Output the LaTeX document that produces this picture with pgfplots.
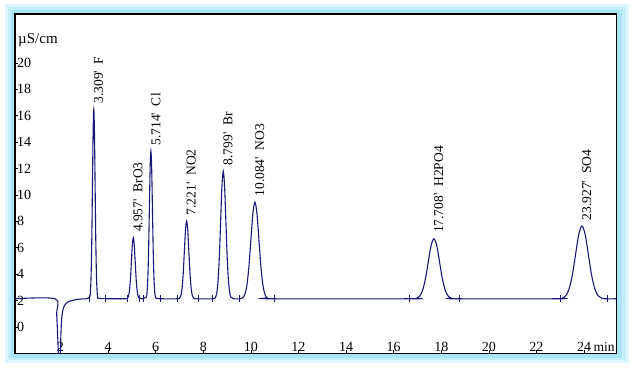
\documentclass[border=0pt]{standalone}
\usepackage{fontspec}
\setmainfont{Liberation Serif}
\usepackage{pgfplots}
\pgfplotsset{compat=1.18}
\definecolor{sig}{RGB}{25,25,120}
\definecolor{glowA}{RGB}{222,246,253}
\definecolor{glowB}{RGB}{195,237,250}
\definecolor{glowC}{RGB}{170,228,247}
\newcommand\q{\textquotesingle}
\begin{document}
\fontsize{13.5bp}{15bp}\selectfont
\begin{tikzpicture}
\useasboundingbox (-15bp,-15.7bp) rectangle (621bp,353.3bp);
\fill[glowA] (-10bp,-9.5bp) rectangle (614bp,349bp);
\fill[glowB] (-7bp,-7bp) rectangle (611bp,346bp);
\fill[glowC] (-4bp,-5bp) rectangle (607bp,343bp);
\begin{axis}[
  scale only axis, width=601.7bp, height=339.3bp,
  at={(0,0)}, anchor=south west,
  xmin=0.09, xmax=25.37, ymin=-2, ymax=23.7,
  axis background/.style={fill=white},
  axis line style={black, line width=1.2bp},
  xtick={2,4,...,24}, ytick={0,2,...,20},
  tick style={black, line width=0.6bp},
  tick align=inside, major tick length=3bp,
  xtick pos=bottom, ytick pos=left,
  xticklabel style={anchor=south, inner sep=1.5bp},
  yticklabel style={anchor=west, inner sep=2bp},
  /pgf/number format/assume math mode=true,
  ticklabel style={font=\fontsize{14bp}{15bp}\selectfont},
]
\addplot[sig, line width=1.1bp, smooth, tension=0.5] coordinates {
(0.09,2.13) (1.78,2.13) (1.84,1.0) (1.89,-1.0) (1.94,-3.0) (1.98,-3.0) (2.02,-0.5) (2.06,0.8) (2.12,1.4) (2.2,1.7) (2.35,1.92) (2.6,2.05) (2.9,2.12) (3.1,2.13)
(3.235,2.29) (3.2625,2.76) (3.29,4.07) (3.3175,6.79) (3.345,10.83) (3.3725,14.79) (3.40,16.48) (3.4275,14.79) (3.455,10.83) (3.4825,6.79) (3.51,4.07) (3.5375,2.76) (3.565,2.29) (3.65,2.15)
(4.7,2.13) (4.82,2.18) (4.86,2.33) (4.90,2.76) (4.94,3.63) (4.98,4.94) (5.02,6.22) (5.06,6.76) (5.10,6.22) (5.14,4.94) (5.18,3.63) (5.22,2.76) (5.26,2.33) (5.30,2.18) (5.42,2.13)
(5.605,2.25) (5.6375,2.62) (5.67,3.64) (5.7025,5.76) (5.735,8.91) (5.7675,11.99) (5.80,13.30) (5.8325,11.99) (5.865,8.91) (5.8975,5.76) (5.93,3.64) (5.9625,2.62) (5.995,2.25) (6.1,2.14)
(6.9,2.13) (7.015,2.20) (7.0625,2.39) (7.11,2.93) (7.1575,4.04) (7.205,5.70) (7.2525,7.33) (7.30,8.02) (7.3475,7.33) (7.395,5.70) (7.4425,4.04) (7.49,2.93) (7.5375,2.39) (7.585,2.20) (7.7,2.13)
(8.4,2.13) (8.51,2.24) (8.565,2.56) (8.62,3.44) (8.675,5.27) (8.73,8.00) (8.785,10.66) (8.84,11.80) (8.895,10.66) (8.95,8.00) (9.005,5.27) (9.06,3.44) (9.115,2.56) (9.17,2.24) (9.3,2.13)
(9.55,2.13) (9.66,2.21) (9.745,2.45) (9.83,3.12) (9.915,4.51) (10.0,6.57) (10.085,8.59) (10.17,9.45) (10.255,8.59) (10.34,6.57) (10.425,4.51) (10.51,3.12) (10.595,2.45) (10.68,2.21) (10.85,2.13)
(16.8,2.13) (16.97,2.18) (17.09,2.33) (17.21,2.75) (17.33,3.61) (17.45,4.89) (17.57,6.15) (17.69,6.68) (17.81,6.15) (17.93,4.89) (18.05,3.61) (18.17,2.75) (18.29,2.33) (18.41,2.18) (18.6,2.13)
(22.9,2.13) (23.10,2.19) (23.235,2.37) (23.37,2.88) (23.505,3.92) (23.64,5.47) (23.775,7.00) (23.91,7.64) (24.045,7.00) (24.18,5.47) (24.315,3.92) (24.45,2.88) (24.585,2.37) (24.72,2.19) (24.9,2.13)
(25.37,2.13)
};
\addplot[only marks, mark=|, mark size=3.5bp, sig, mark options={line width=0.8bp}] coordinates {
(3.21,2.13) (3.87,2.13) (4.81,2.13) (5.31,2.13) (5.48,2.13) (6.18,2.13) (6.91,2.13) (7.79,2.13) (8.39,2.13) (9.51,2.13) (10.97,2.13) (16.66,2.13) (18.78,2.13) (23.02,2.13) (24.97,2.13)
};
\node[rotate=90, anchor=north west, inner sep=0pt] at (axis cs:3.40,16.90) {3.309\q~~F};
\node[rotate=90, anchor=north west, inner sep=0pt] at (axis cs:5.06,7.18) {4.957\q~~BrO3};
\node[rotate=90, anchor=north west, inner sep=0pt] at (axis cs:5.80,13.72) {5.714\q~~Cl};
\node[rotate=90, anchor=north west, inner sep=0pt] at (axis cs:7.30,8.44) {7.221\q~~NO2};
\node[rotate=90, anchor=north west, inner sep=0pt] at (axis cs:8.84,12.22) {8.799\q~~Br};
\node[rotate=90, anchor=north west, inner sep=0pt] at (axis cs:10.17,9.87) {10.084\q~~NO3};
\node[rotate=90, anchor=north west, inner sep=0pt] at (axis cs:17.69,7.10) {17.708\q~~H2PO4};
\node[rotate=90, anchor=north west, inner sep=0pt] at (axis cs:23.91,8.06) {23.927\q~~SO4};
\node[anchor=south east, inner sep=2bp] at (rel axis cs:1,0) {min};
\node[anchor=north west, inner sep=0pt, xshift=3bp, yshift=-19bp, font=\fontsize{15bp}{16bp}\selectfont] at (rel axis cs:0,1) {µS/cm};
\end{axis}
\end{tikzpicture}
\end{document}
